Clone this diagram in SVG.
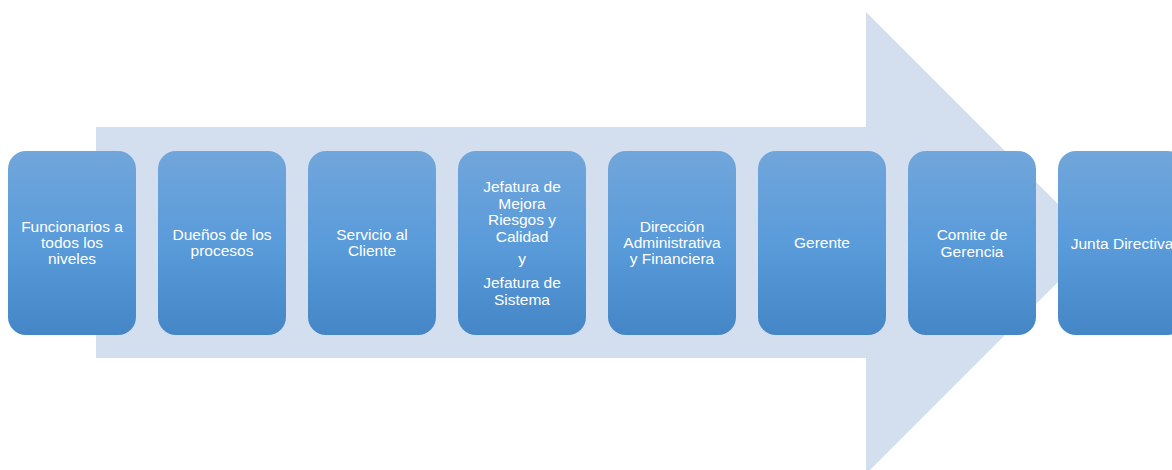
<svg xmlns="http://www.w3.org/2000/svg" width="1172" height="470" viewBox="0 0 1172 470">
  <defs>
    <linearGradient id="boxGrad" x1="0" y1="0" x2="0" y2="1">
      <stop offset="0" stop-color="#71A6DA"/>
      <stop offset="0.5" stop-color="#5A9BDA"/>
      <stop offset="1" stop-color="#4486C6"/>
    </linearGradient>
  </defs>
  <style>
    .box { fill: url(#boxGrad); }
    .lbl { fill: #FFFFFF; font-family: "Liberation Sans", Arial, sans-serif; font-size: 15.5px; text-anchor: middle; }
    .arrow { fill: #D3DEEF; }
  </style>
  <rect width="1172" height="470" fill="#FFFFFF"/>
  <g id="arrow">
    <polygon class="arrow" points="96,127 866,127 866,12 1097,243 866,474 866,358 96,358"/>
  </g>
  <g id="connectors"></g>
  <g id="n1">
    <rect class="box" x="8" y="151" width="128" height="184" rx="18"/>
    <text class="lbl"><tspan x="72" y="232">Funcionarios a</tspan><tspan x="72" y="248">todos los</tspan><tspan x="72" y="264">niveles</tspan></text>
  </g>
  <g id="n2">
    <rect class="box" x="158" y="151" width="128" height="184" rx="18"/>
    <text class="lbl"><tspan x="222" y="240">Dueños de los</tspan><tspan x="222" y="256">procesos</tspan></text>
  </g>
  <g id="n3">
    <rect class="box" x="308" y="151" width="128" height="184" rx="18"/>
    <text class="lbl"><tspan x="372" y="240">Servicio al</tspan><tspan x="372" y="256">Cliente</tspan></text>
  </g>
  <g id="n4">
    <rect class="box" x="458" y="151" width="128" height="184" rx="18"/>
    <text class="lbl"><tspan x="522" y="192">Jefatura de</tspan><tspan x="522" y="208.5">Mejora</tspan><tspan x="522" y="225">Riesgos y</tspan><tspan x="522" y="241.5">Calidad</tspan><tspan x="522" y="264">y</tspan><tspan x="522" y="288">Jefatura de</tspan><tspan x="522" y="305">Sistema</tspan></text>
  </g>
  <g id="n5">
    <rect class="box" x="608" y="151" width="128" height="184" rx="18"/>
    <text class="lbl"><tspan x="672" y="232">Dirección</tspan><tspan x="672" y="248">Administrativa</tspan><tspan x="672" y="264">y Financiera</tspan></text>
  </g>
  <g id="n6">
    <rect class="box" x="758" y="151" width="128" height="184" rx="18"/>
    <text class="lbl" x="822" y="248">Gerente</text>
  </g>
  <g id="n7">
    <rect class="box" x="908" y="151" width="128" height="184" rx="18"/>
    <text class="lbl"><tspan x="972" y="240">Comite de</tspan><tspan x="972" y="256.5">Gerencia</tspan></text>
  </g>
  <g id="n8">
    <rect class="box" x="1058" y="151" width="128" height="184" rx="18"/>
    <text class="lbl" x="1122" y="249">Junta Directiva</text>
  </g>
</svg>
